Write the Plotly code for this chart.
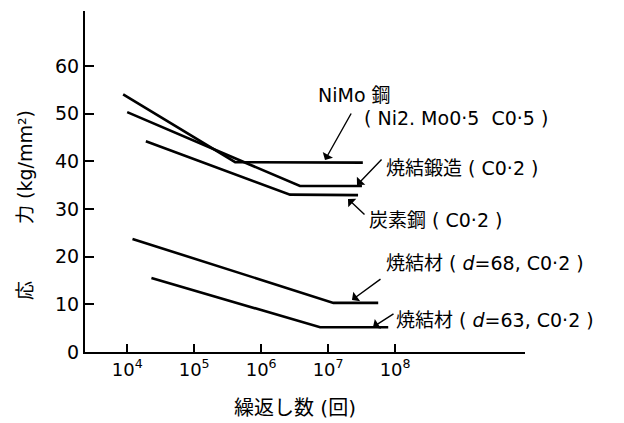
import plotly.graph_objects as go

# ---- data ----
nimo_n = [8.7e3, 4.1e5, 3.3e7]
nimo_s = [54.0, 39.8, 39.7]
forged_n = [1.0e4, 3.8e6, 3.2e7]
forged_s = [50.3, 34.8, 34.8]
carbon_n = [1.9e4, 2.7e6, 2.8e7]
carbon_s = [44.2, 33.0, 32.9]
sint68_n = [1.2e4, 1.2e7, 5.6e7]
sint68_s = [23.7, 10.3, 10.3]
sint63_n = [2.3e4, 7.6e6, 7.9e7]
sint63_s = [15.5, 5.2, 5.2]

x_tickvals = [1e4, 1e5, 1e6, 1e7, 1e8]
x_ticktext = ["10<sup>4</sup>", "10<sup>5</sup>", "10<sup>6</sup>", "10<sup>7</sup>", "10<sup>8</sup>"]
y_tickvals = [0, 10, 20, 30, 40, 50, 60]

FONT = "DejaVu Sans, Noto Sans CJK JP, sans-serif"

fig = go.Figure()
for n, s in [(nimo_n, nimo_s), (forged_n, forged_s), (carbon_n, carbon_s),
             (sint68_n, sint68_s), (sint63_n, sint63_s)]:
    fig.add_trace(go.Scatter(x=n, y=s, mode="lines",
                             line=dict(color="black", width=2.6), showlegend=False))

W, H = 624, 423
OFF = 8  # page body margin
SX0, SX1, SY0, SY1 = 85, 525, 11, 352  # plot area on screen
L, R = SX0 - OFF, W - (SX1 - OFF)
T, B = SY0 - OFF, H - (SY1 - OFF)
pw, ph = SX1 - SX0, SY1 - SY0

def px(x):
    return (x - SX0) / pw

def py(y):
    return (SY1 - y) / ph

labels = [
    ("NiMo 鋼", 316, 95),
    ("( Ni2. Mo0·5  C0·5 )", 362, 118),
    ("焼結鍛造 ( C0·2 )", 384, 168),
    ("炭素鋼 ( C0·2 )", 367, 220),
    ("焼結材 ( <i>d</i>=68, C0·2 )", 384, 263),
    ("焼結材 ( <i>d</i>=63, C0·2 )", 394, 320),
]
annots = []
for t, x, y in labels:
    annots.append(dict(text=t, x=px(x), y=py(y), xref="paper", yref="paper",
                       xanchor="left", yanchor="middle", showarrow=False,
                       font=dict(size=19, color="black", family=FONT)))

# axis titles
annots.append(dict(text="応　　　力 (kg/mm²)", x=px(25), y=py(205), xref="paper", yref="paper",
                   xanchor="center", yanchor="middle", showarrow=False, textangle=-90,
                   font=dict(size=19, color="black", family=FONT)))
annots.append(dict(text="繰返し数 (回)", x=px(295), y=py(408), xref="paper", yref="paper",
                   xanchor="center", yanchor="middle", showarrow=False,
                   font=dict(size=20, color="black", family=FONT)))

# arrows: (head x, head y, tail x, tail y) in screen pixels
arrows = [
    (325, 160, 352, 112),
    (357, 185, 383, 158),
    (348, 199, 366, 216),
    (352, 300, 382, 278),
    (373, 327, 395, 313),
]
for hx, hy, tx, ty in arrows:
    annots.append(dict(text="", x=px(hx), y=py(hy), xref="paper", yref="paper",
                       ax=tx - hx, ay=ty - hy, axref="pixel", ayref="pixel",
                       showarrow=True, arrowhead=1, arrowsize=1.4, arrowwidth=1.4,
                       arrowcolor="black"))

fig.update_layout(
    width=W, height=H,
    margin=dict(l=L, r=R, t=T, b=B, autoexpand=False),
    paper_bgcolor="white", plot_bgcolor="white",
    font=dict(family=FONT, color="black", size=18),
    annotations=annots,
    xaxis=dict(type="log", range=[3.37, 9.94], showgrid=False, zeroline=False,
               automargin=False,
               showline=True, linecolor="black", linewidth=2,
               tickvals=x_tickvals, ticktext=x_ticktext,
               ticks="inside", ticklen=8, tickwidth=1.5, tickcolor="black",
               tickfont=dict(size=18, family=FONT)),
    yaxis=dict(range=[0, 71.5], showgrid=False, zeroline=False,
               automargin=False,
               showline=True, linecolor="black", linewidth=2,
               tickvals=y_tickvals, ticks="inside", ticklen=9, tickwidth=1.5,
               tickcolor="black", tickfont=dict(size=19, family=FONT)),
)

fig.write_html("out.html")
